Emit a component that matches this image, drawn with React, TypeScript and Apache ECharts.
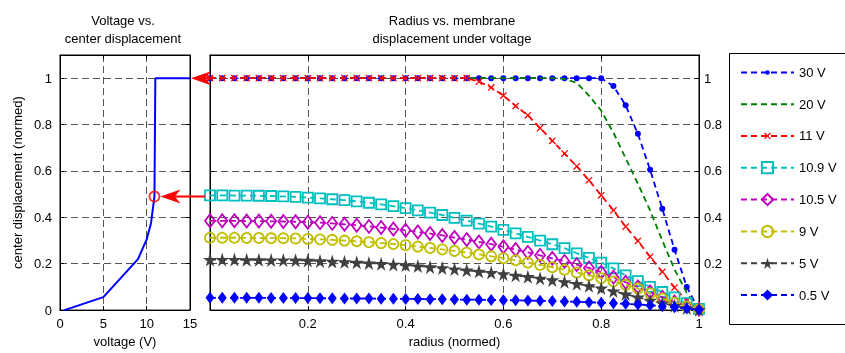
import React, { useEffect, useRef } from 'react';
import * as echarts from 'echarts';

// ---------- data ----------
const voltage = [0.5, 5, 9, 10, 10.5, 10.9, 11, 15];
const centerDisp = [0, 0.056, 0.22, 0.305, 0.375, 0.49, 1, 1];
const highlightVoltage = [10.9];
const highlightDisp = [0.49];

const radius = [
  0, 0.025, 0.05, 0.075, 0.1, 0.125, 0.15, 0.175, 0.2, 0.225, 0.25, 0.275, 0.3, 0.325, 0.35, 0.375,
  0.4, 0.425, 0.45, 0.475, 0.5, 0.525, 0.55, 0.575, 0.6, 0.625, 0.65, 0.675, 0.7, 0.725, 0.75, 0.775,
  0.8, 0.825, 0.85, 0.875, 0.9, 0.925, 0.95, 0.975, 1,
];

const v30 = [
  1, 1, 1, 1, 1, 1, 1, 1, 1, 1, 1, 1, 1, 1, 1, 1, 1, 1, 1, 1, 1, 1, 1, 1, 1, 1, 1, 1, 1, 1, 1, 1, 1,
  0.966, 0.883, 0.76, 0.605, 0.437, 0.26, 0.1, 0,
];
const v20 = [
  1, 1, 1, 1, 1, 1, 1, 1, 1, 1, 1, 1, 1, 1, 1, 1, 1, 1, 1, 1, 1, 1, 1, 1, 1, 1, 1, 1, 1,
  0.997, 0.98, 0.925, 0.86, 0.765, 0.655, 0.545, 0.43, 0.3, 0.175, 0.075, 0,
];
const v11 = [
  1, 1, 1, 1, 1, 1, 1, 1, 1, 1, 1, 1, 1, 1, 1, 1, 1, 1, 1, 1, 1, 1,
  0.985, 0.96, 0.925, 0.88, 0.84, 0.785, 0.73, 0.675, 0.62, 0.56, 0.495, 0.43, 0.36, 0.298, 0.23,
  0.165, 0.097, 0.04, 0.005,
];
const v10_9 = [
  0.495, 0.495, 0.494, 0.494, 0.493, 0.492, 0.49, 0.488, 0.485, 0.482, 0.478, 0.474, 0.469, 0.463,
  0.456, 0.448, 0.44, 0.43, 0.42, 0.41, 0.398, 0.386, 0.373, 0.36, 0.346, 0.331, 0.316, 0.3, 0.284,
  0.267, 0.245, 0.225, 0.205, 0.18, 0.15, 0.125, 0.1, 0.078, 0.055, 0.03, 0.005,
];
const v10_5 = [
  0.385, 0.385, 0.385, 0.384, 0.384, 0.383, 0.382, 0.381, 0.379, 0.377, 0.374, 0.37, 0.366, 0.361,
  0.356, 0.35, 0.344, 0.337, 0.33, 0.322, 0.313, 0.304, 0.294, 0.284, 0.273, 0.261, 0.249, 0.236,
  0.223, 0.21, 0.196, 0.182, 0.163, 0.142, 0.12, 0.1, 0.078, 0.055, 0.035, 0.018, 0.003,
];
const v9 = [
  0.312, 0.312, 0.312, 0.311, 0.311, 0.31, 0.31, 0.309, 0.307, 0.305, 0.303, 0.3, 0.297, 0.293,
  0.289, 0.285, 0.28, 0.274, 0.268, 0.262, 0.255, 0.248, 0.24, 0.232, 0.224, 0.215, 0.205, 0.195,
  0.185, 0.174, 0.162, 0.15, 0.138, 0.124, 0.109, 0.093, 0.072, 0.05, 0.032, 0.016, 0.003,
];
const v5 = [
  0.218, 0.218, 0.218, 0.217, 0.217, 0.216, 0.216, 0.215, 0.214, 0.212, 0.21, 0.208, 0.206, 0.203,
  0.2, 0.197, 0.194, 0.19, 0.186, 0.182, 0.177, 0.172, 0.167, 0.162, 0.156, 0.15, 0.144, 0.137,
  0.13, 0.122, 0.114, 0.105, 0.095, 0.082, 0.069, 0.056, 0.042, 0.03, 0.019, 0.009, 0.002,
];
const v0_5 = [
  0.053, 0.053, 0.053, 0.053, 0.053, 0.052, 0.052, 0.052, 0.052, 0.051, 0.051, 0.05, 0.05, 0.05,
  0.049, 0.049, 0.048, 0.048, 0.047, 0.047, 0.046, 0.045, 0.045, 0.044, 0.043, 0.042, 0.041, 0.04,
  0.039, 0.037, 0.036, 0.034, 0.032, 0.03, 0.027, 0.024, 0.021, 0.017, 0.012, 0.007, 0.001,
];

const seriesNames = ['30 V', '20 V', '11 V', '10.9 V', '10.5 V', '9 V', '5 V', '0.5 V'];
const seriesValues = [v30, v20, v11, v10_9, v10_5, v9, v5, v0_5];

// ---------- styles ----------
const FONT = '"Liberation Sans", Arial, Helvetica, sans-serif';
const STAR = 'path://M50,0 L61,35 L98,35 L68,57 L79,91 L50,70 L21,91 L32,57 L2,35 L39,35 Z';
// padded symbols (the lone moves widen the bounding box so the mark stays small in the legend)
const DOT = 'path://M0,0 M20,20 M10,6 A4,4 0 1 1 10,14 A4,4 0 1 1 10,6 Z';
const CROSS = 'path://M0,0 M20,20 M4,5.5L5.5,4L10,8.5L14.5,4L16,5.5L11.5,10L16,14.5L14.5,16L10,11.5L5.5,16L4,14.5L8.5,10Z';
const DASH = [6, 4];

const seriesStyles: any[] = [
  { color: '#0000ff', symbol: DOT, symbolSize: 15, fill: '#0000ff', show: true },
  { color: '#008000', symbol: 'circle', symbolSize: 1, fill: 'transparent', show: false, noBorder: true },
  { color: '#ff0000', symbol: CROSS, symbolSize: 12, fill: '#ff0000', show: true },
  { color: '#00bfbf', symbol: 'rect', symbolSize: 10, fill: 'transparent', show: true },
  { color: '#bf00bf', symbol: 'diamond', symbolSize: [10, 13], fill: 'transparent', show: true },
  { color: '#bfbf00', symbol: 'circle', symbolSize: 10, fill: 'transparent', show: true },
  { color: '#404040', symbol: STAR, symbolSize: 14, fill: '#404040', show: true },
  { color: '#0000ff', symbol: 'diamond', symbolSize: [9, 12], fill: '#0000ff', show: true },
];

const gridLine = { show: true, showMinLine: false, showMaxLine: false, lineStyle: { color: '#555', type: [7, 4], width: 1 } };
const tick = { show: true, inside: true, length: 4, lineStyle: { color: '#000' } };
const axLine = { show: true, onZero: false, lineStyle: { color: '#000', width: 1 } };
const lbl = (extra: any = {}) => ({ color: '#000', fontSize: 13, fontFamily: FONT, ...extra });

function arrow(tail: number[], tip: number[], L: number, W: number) {
  const [tx, ty] = tip;
  return [
    { type: 'line', shape: { x1: tail[0], y1: tail[1], x2: tx + L * 0.6, y2: ty }, style: { stroke: '#ff0000', lineWidth: 2 }, z: 100 },
    {
      type: 'polygon',
      shape: { points: [[tx, ty], [tx + L, ty - W], [tx + L * 0.72, ty], [tx + L, ty + W]] },
      style: { fill: '#ff0000' },
      z: 100,
    },
  ];
}

export default function App() {
  const ref = useRef<HTMLDivElement>(null);
  useEffect(() => {
    if (!ref.current) return;
    const chart = echarts.init(ref.current, null, { renderer: 'svg' });
    const option: any = {
      animation: false,
      textStyle: { fontFamily: FONT },
      grid: [
        { left: 60, top: 55, width: 130, height: 267, show: true, borderColor: '#000', borderWidth: 1 },
        { left: 210, top: 55, width: 489, height: 268, show: true, borderColor: '#000', borderWidth: 1 },
      ],
      xAxis: [
        {
          gridIndex: 0, type: 'value', min: 0, max: 15, interval: 5, position: 'bottom',
          axisLine: axLine, axisTick: tick, axisLabel: lbl({ margin: 7 }), splitLine: gridLine,
          name: 'voltage (V)', nameLocation: 'middle', nameGap: 20, nameTextStyle: lbl(),
        },
        {
          gridIndex: 0, type: 'value', min: 0, max: 15, interval: 5, position: 'top',
          axisLine: axLine, axisTick: tick, axisLabel: { show: false }, splitLine: { show: false },
        },
        {
          gridIndex: 1, type: 'value', min: 0, max: 1, interval: 0.2, position: 'bottom',
          axisLine: axLine, axisTick: tick,
          axisLabel: lbl({ margin: 7, formatter: (v: number) => (v === 0 ? '' : String(+v.toFixed(1))) }),
          splitLine: gridLine,
          name: 'radius (normed)', nameLocation: 'middle', nameGap: 20, nameTextStyle: lbl(),
        },
        {
          gridIndex: 1, type: 'value', min: 0, max: 1, interval: 0.2, position: 'top',
          axisLine: axLine, axisTick: tick, axisLabel: { show: false }, splitLine: { show: false },
        },
      ],
      yAxis: [
        {
          gridIndex: 0, type: 'value', min: 0, max: 1.1, interval: 0.2, position: 'left',
          axisLine: axLine, axisTick: tick,
          axisLabel: lbl({ margin: 8, formatter: (v: number) => (v > 1.05 ? '' : String(+v.toFixed(1))) }),
          splitLine: gridLine,
          name: 'center displacement (normed)', nameLocation: 'middle', nameGap: 36, nameTextStyle: lbl(),
        },
        {
          gridIndex: 0, type: 'value', min: 0, max: 1.1, interval: 0.2, position: 'right',
          axisLine: axLine, axisTick: tick, axisLabel: { show: false }, splitLine: { show: false },
        },
        {
          gridIndex: 1, type: 'value', min: 0, max: 1.1, interval: 0.2, position: 'left',
          axisLine: axLine, axisTick: tick, axisLabel: { show: false }, splitLine: gridLine,
        },
        {
          gridIndex: 1, type: 'value', min: 0, max: 1.1, interval: 0.2, position: 'right',
          axisLine: axLine, axisTick: tick,
          axisLabel: lbl({ margin: 5, formatter: (v: number) => (v === 0 || v > 1.05 ? '' : String(+v.toFixed(1))) }),
          splitLine: { show: false },
        },
      ],
      legend: {
        data: seriesNames,
        orient: 'vertical',
        left: 740,
        top: 66,
        padding: 0,
        itemWidth: 53,
        itemHeight: 14,
        itemGap: 18.7,
        selectedMode: false,
        textStyle: lbl(),
      },
      series: [
        {
          type: 'line', xAxisIndex: 0, yAxisIndex: 0,
          data: voltage.map((v, i) => [v, centerDisp[i]]),
          symbol: 'none', lineStyle: { color: '#0000ff', width: 2 }, itemStyle: { color: '#0000ff' },
        },
        {
          type: 'scatter', xAxisIndex: 0, yAxisIndex: 0,
          data: highlightVoltage.map((v, i) => [v, highlightDisp[i]]),
          symbol: 'circle', symbolSize: 10, z: 5,
          itemStyle: { color: 'transparent', borderColor: '#ff0000', borderWidth: 1.8 },
        },
        ...seriesNames.map((name, k) => {
          const s = seriesStyles[k];
          const hollow = s.fill === 'transparent';
          return {
            type: 'line', name, xAxisIndex: 2, yAxisIndex: 2,
            data: radius.map((r, i) => [r, seriesValues[k][i]]),
            symbol: s.symbol, symbolSize: s.symbolSize, showSymbol: s.show,
            lineStyle: { color: s.color, width: 1.8, type: DASH },
            itemStyle: {
              color: s.fill,
              borderColor: s.noBorder ? 'transparent' : s.color,
              borderWidth: hollow && !s.noBorder ? 1.8 : 0,
            },
            z: 2 + k * 0.01,
          };
        }),
      ],
    };
    chart.setOption(option);

    const tipTop = chart.convertToPixel({ gridIndex: 0 } as any, [15, 1]) as number[];
    const mainLeftTop = chart.convertToPixel({ gridIndex: 1 } as any, [0, 1]) as number[];
    const circ = chart.convertToPixel({ gridIndex: 0 } as any, [highlightVoltage[0], highlightDisp[0]]) as number[];
    const midTail = [mainLeftTop[0] - 5, circ[1]];

    chart.setOption({
      graphic: [
        { type: 'text', x: 123, y: 20, style: { text: 'Voltage vs.', fill: '#000', font: `13px ${FONT}`, align: 'center', verticalAlign: 'middle' } },
        { type: 'text', x: 123, y: 38, style: { text: 'center displacement', fill: '#000', font: `13px ${FONT}`, align: 'center', verticalAlign: 'middle' } },
        { type: 'text', x: 452, y: 20, style: { text: 'Radius vs. membrane', fill: '#000', font: `13px ${FONT}`, align: 'center', verticalAlign: 'middle' } },
        { type: 'text', x: 452, y: 38, style: { text: 'displacement under voltage', fill: '#000', font: `13px ${FONT}`, align: 'center', verticalAlign: 'middle' } },
        { type: 'rect', shape: { x: 729.5, y: 53.5, width: 140, height: 271 }, style: { fill: 'none', stroke: '#000', lineWidth: 1 }, z: 1 },
        ...arrow([mainLeftTop[0] + 5, tipTop[1]], [tipTop[0] + 1, tipTop[1]], 20, 7),
        ...arrow(midTail, [circ[0] + 6, circ[1]], 20, 7),
      ],
    });

    return () => chart.dispose();
  }, []);
  return <div ref={ref} style={{ position: 'fixed', left: 0, top: 0, width: 845, height: 353 }} />;
}
